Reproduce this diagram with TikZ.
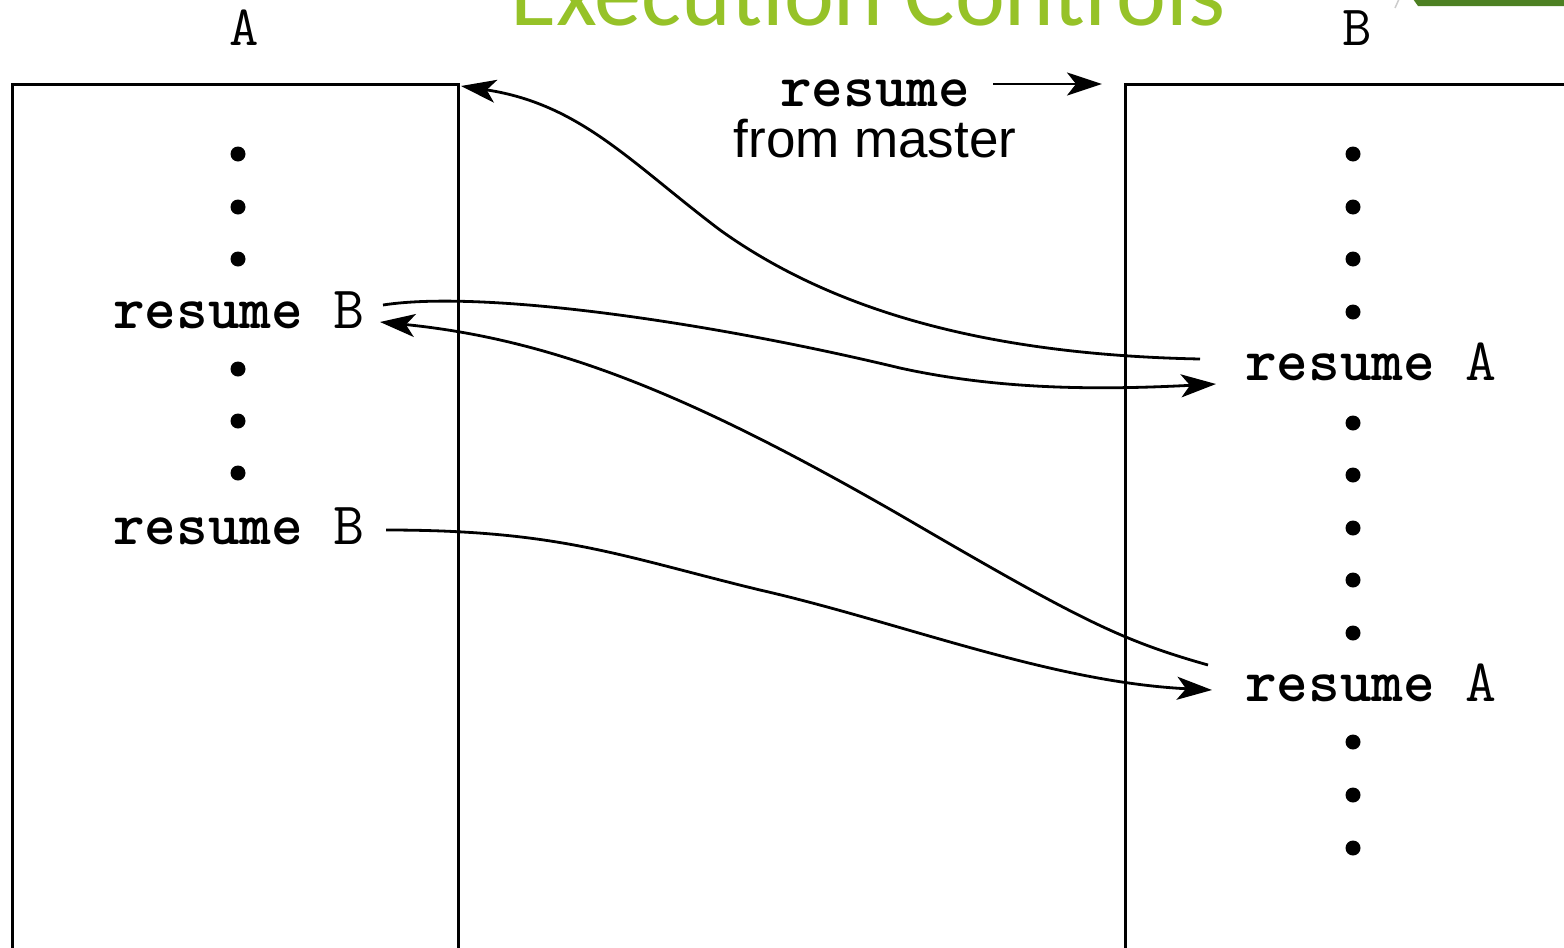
\documentclass[tikz,border=0pt]{standalone}
\usepackage{fontspec}
\usetikzlibrary{arrows.meta}
\newfontfamily\courf{Latin Modern Mono}
\newfontfamily\courbf{lmmonolt10-bold}[Extension=.otf]
\newfontfamily\sansf{Liberation Sans}
\newfontfamily\titlef{Carlito}
\definecolor{titlegreen}{RGB}{150,194,40}
\definecolor{darkgreen}{RGB}{77,128,34}
\newcommand{\kw}[1]{{\courbf #1}}
\tikzset{
  code/.style={inner sep=0pt, anchor=base west, font=\courf\fontsize{60.2}{64}\selectfont},
  lbl/.style={inner sep=0pt, anchor=base, font=\courf\fontsize{57}{64}\selectfont},
  boxline/.style={line width=3pt},
  flow/.style={line width=2.8pt, -{Stealth[length=35pt,width=23pt,inset=9pt]}},
  dotmark/.style={circle, fill=black, inner sep=0pt, minimum size=15pt}
}
\begin{document}
\begin{tikzpicture}[x=1pt,y=-1pt]
\useasboundingbox (0,0) rectangle (1564,948);
% title and corner decoration
\node[inner sep=0pt, anchor=base west, text=titlegreen, font=\titlef\fontsize{94.5}{100}\selectfont] (title) at (510,25) {Execution Controls};
\fill[darkgreen] (1413,-1) -- (1570,-1) -- (1570,6) -- (1418,6) -- cycle;
\draw[gray!40, line width=1.5pt] (1395,8) -- (1399,-1);
% boxes
\draw[boxline] (12,960) -- (12,84) -- (458,84) -- (458,960);
\draw[boxline] (1125,960) -- (1125,84) -- (1580,84);
% labels
\node[lbl] (labA) at (244,45) {A};
\node[lbl] (labB) at (1357,45) {B};
% left column
\foreach \y [count=\i] in {154,207,259,369,421,473} \node[dotmark] (ld\i) at (238,\y) {};
\node[code] (la1) at (113,328) {\kw{resume} B};
\node[code] (la2) at (113,544) {\kw{resume} B};
% right column
\foreach \y [count=\i] in {154,207,259,312,423,475,528,580,633,742,795,848} \node[dotmark] (rd\i) at (1353,\y) {};
\node[code] (rb1) at (1245,380) {\kw{resume} A};
\node[code] (rb2) at (1245,701) {\kw{resume} A};
% master label
\node[code, anchor=base] (mres) at (875,106) {\kw{resume}};
\node[inner sep=0pt, anchor=base, font=\sansf\fontsize{53}{60}\selectfont] (mfrom) at (875,157) {from master};
\coordinate (mstart) at (993,84);
\coordinate (mend) at (1102,84);
\draw[flow] (mstart) -- (mend);
% connector end points
\coordinate (s1) at (1200,359);
\coordinate (e1) at (461,86);
\coordinate (s2) at (383,305);
\coordinate (e2) at (1216,384);
\coordinate (s3) at (1208,665);
\coordinate (e3) at (380,322);
\coordinate (s4) at (386,530);
\coordinate (e4) at (1212,690);
\draw[flow] (s1) .. controls (1000,355) and (840,316) .. (720,230) .. controls (630,162) and (580,104) .. (e1);
\draw[flow] (s2) .. controls (480,290) and (700,320) .. (900,368) .. controls (1000,390) and (1100,390) .. (e2);
\draw[flow] (s3) .. controls (1120,640) and (1080,620) .. (900,515) .. controls (700,400) and (560,340) .. (e3);
\draw[flow] (s4) .. controls (560,530) and (620,556) .. (760,590) .. controls (900,622) and (1050,682) .. (e4);
\end{tikzpicture}
\end{document}
